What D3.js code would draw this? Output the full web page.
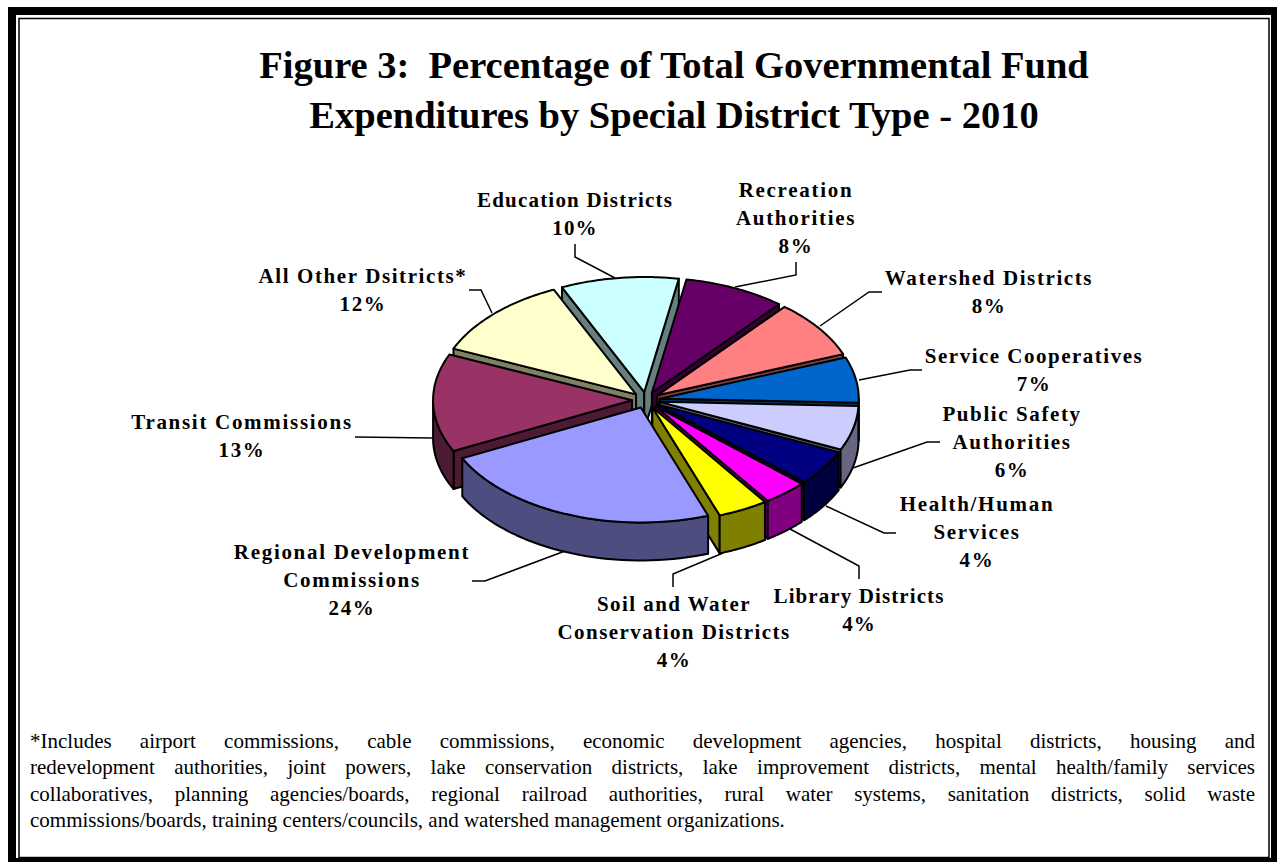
<!DOCTYPE html>
<html>
<head>
<meta charset="utf-8">
<script src="https://cdn.jsdelivr.net/npm/d3@7"></script>
<style>
  html, body { margin: 0; padding: 0; background: #fff; }
  svg { display: block; }
  text { font-family: "Liberation Serif", "Times New Roman", serif; fill: #000; white-space: pre; }
  .title { font-size: 38.5px; font-weight: bold; }
  .label { font-size: 21px; font-weight: bold; }
  .note { font-size: 21px; }
</style>
</head>
<body>
<svg id="chart" width="1277" height="862"></svg>
<script>
// data, clockwise from the Recreation slice
const categories = ['Recreation Authorities', 'Watershed Districts', 'Service Cooperatives',
    'Public Safety Authorities', 'Health/Human Services', 'Library Districts',
    'Soil and Water Conservation Districts', 'Regional Development Commissions',
    'Transit Commissions', 'All Other Dsitricts*', 'Education Districts'];
// printed labels
const percents = [8, 8, 7, 6, 4, 4, 4, 24, 13, 12, 10];
const shares = [8.25, 8.14, 6.39, 6.25, 5.0, 3.61, 4.08, 23.2, 13.8, 11.7, 9.56];
const topColors = ['#660066', '#ff8080', '#0066cc', '#ccccff', '#000080', '#ff00ff',
    '#ffff00', '#9999ff', '#993366', '#ffffcc', '#ccffff'];
const sideColors = ['#330033', '#804040', '#003366', '#666680', '#000040', '#800080',
    '#808000', '#4d4d80', '#4d1a33', '#808066', '#668080'];

const titleLines = ['Figure 3:  Percentage of Total Governmental Fund',
    'Expenditures by Special District Type - 2010'];
const noteLines = [
    '*Includes airport commissions, cable commissions, economic development agencies, hospital districts, housing and',
    'redevelopment authorities, joint powers, lake conservation districts, lake improvement districts, mental health/family services',
    'collaboratives, planning agencies/boards, regional railroad authorities, rural water systems, sanitation districts, solid waste',
    'commissions/boards, training centers/councils, and watershed management organizations.'
];

// label lines, in slice order
const labelLines = [
    ['Recreation', 'Authorities'], ['Watershed Districts'], ['Service Cooperatives'],
    ['Public Safety', 'Authorities'], ['Health/Human', 'Services'], ['Library Districts'],
    ['Soil and Water', 'Conservation Districts'], ['Regional Development', 'Commissions'],
    ['Transit Commissions'], ['All Other Dsitricts*'], ['Education Districts']
];

// layout of labels: centre x, first baseline, letter spacing
const labelPos = [[796, 197], [989, 285], [1034, 363], [1012, 421], [977, 511], [859, 603],
    [674, 611], [352, 559], [242, 429], [363, 283], [575, 207]];
const labelSpacing = [1.7, 1.6, 1.5, 1.6, 1.7, 1.1, 1.45, 1.7, 1.7, 1.6, 1.2];
const leaders = [
    [[796, 262], [796, 275], [735, 287]],
    [[882, 292], [869, 292], [820, 326]],
    [[922, 370], [910, 370], [859, 380]],
    [[940, 442], [927, 442], [853, 468]],
    [[896, 533], [884, 533], [826, 506]],
    [[859, 579], [859, 566], [790, 529]],
    [[673, 587], [673, 574], [723, 553]],
    [[472, 581], [485, 581], [565, 551]],
    [[355, 437], [432, 438]],
    [[469, 290], [481, 290], [492, 313]],
    [[575, 244], [575, 257], [615, 278]]
];

const svg = d3.select('#chart');

// frame
svg.append('rect').attr('x', 12).attr('y', 11).attr('width', 1263).attr('height', 851)
    .attr('fill', 'none').attr('stroke', '#000').attr('stroke-width', 8);
svg.append('rect').attr('x', 19).attr('y', 18.5).attr('width', 1250).attr('height', 839)
    .attr('fill', '#fff').attr('stroke', '#000').attr('stroke-width', 1.5);
svg.append('rect').attr('x', 0).attr('y', 860).attr('width', 1277).attr('height', 2).attr('fill', '#000');
svg.append('rect').attr('x', 0).attr('y', 0).attr('width', 8).attr('height', 862).attr('fill', '#fff');

svg.selectAll('.title').data(titleLines).join('text')
    .attr('class', 'title')
    .attr('x', 674)
    .attr('y', (d, i) => 78 + i * 50)
    .attr('text-anchor', 'middle')
    .text(d => d);

// pie geometry
const startAngle = 10 * Math.PI / 180;
const explode = 0.07;
const depth = 38;
const xscale = d3.scaleLinear().domain([-1, 1]).range([646 - 199, 646 + 199]);
const yscale = d3.scaleLinear().domain([-1, 1]).range([400 + 115, 400 - 115]);

const pie = d3.pie().sort(null)
    .startAngle(startAngle)
    .endAngle(startAngle + 2 * Math.PI);
const slices = pie(shares).map((d, i) => ({
    ...d,
    i,
    mid: (d.startAngle + d.endAngle) / 2
}));

const project = (d, angle, r, z) => [
    xscale(explode * Math.sin(d.mid) + r * Math.sin(angle)),
    yscale(explode * Math.cos(d.mid) + r * Math.cos(angle)) + z
];
const line = d3.line();
const arcAngles = (a0, a1) => d3.range(0, 41).map(k => a0 + (a1 - a0) * k / 40);

const face = (d, a) => line([project(d, a, 0, 0), project(d, a, 1, 0),
    project(d, a, 1, depth), project(d, a, 0, depth)]) + 'Z';

const wall = d => {
    const a0 = Math.max(d.startAngle, Math.PI / 2);
    const a1 = Math.min(d.endAngle, 3 * Math.PI / 2);
    if (a1 <= a0) return null;
    const top = arcAngles(a0, a1).map(a => project(d, a, 1, 0));
    const bottom = arcAngles(a1, a0).map(a => project(d, a, 1, depth));
    return line(top.concat(bottom)) + 'Z';
};

const surface = d => line([project(d, 0, 0, 0)]
    .concat(arcAngles(d.startAngle, d.endAngle).map(a => project(d, a, 1, 0)))) + 'Z';

// back slices first so the front ones paint over them
const ordered = slices.slice().sort((a, b) => Math.cos(b.mid) - Math.cos(a.mid));
const groups = svg.append('g').selectAll('g').data(ordered).join('g')
    .attr('stroke', '#000')
    .attr('stroke-width', 2)
    .attr('stroke-linejoin', 'round');

// only the cut faces turned towards the viewer
groups.filter(d => Math.sin(d.startAngle) < 0).append('path')
    .attr('d', d => face(d, d.startAngle)).attr('fill', d => sideColors[d.i]);
groups.filter(d => Math.sin(d.endAngle) > 0).append('path')
    .attr('d', d => face(d, d.endAngle)).attr('fill', d => sideColors[d.i]);
groups.filter(d => wall(d) !== null).append('path').attr('d', wall).attr('fill', d => sideColors[d.i]);
groups.append('path').attr('d', surface).attr('fill', d => topColors[d.i]);

// leaders
svg.append('g').selectAll('path').data(leaders).join('path')
    .attr('d', d => line(d))
    .attr('fill', 'none')
    .attr('stroke', '#000')
    .attr('stroke-width', 1.5);

// labels
slices.forEach(d => {
    const lines = labelLines[d.i].concat([percents[d.i] + '%']);
    svg.append('g').selectAll('text').data(lines).join('text')
        .attr('class', 'label')
        .attr('x', labelPos[d.i][0])
        .attr('y', (t, k) => labelPos[d.i][1] + k * 28)
        .attr('text-anchor', 'middle')
        .style('letter-spacing', labelSpacing[d.i] + 'px')
        .text(t => t);
});

// footnote, first three lines justified by hand
svg.selectAll('.note').data(noteLines).join('text')
    .attr('class', 'note')
    .attr('x', 30)
    .attr('y', (d, i) => 748 + i * 26.4)
    .text(d => d)
    .each(function (d, i) {
        if (i === noteLines.length - 1) return;
        const gaps = d.split(' ').length - 1;
        const extra = (1225 - this.getComputedTextLength()) / gaps;
        d3.select(this).style('word-spacing', extra + 'px');
    });
</script>
</body>
</html>
